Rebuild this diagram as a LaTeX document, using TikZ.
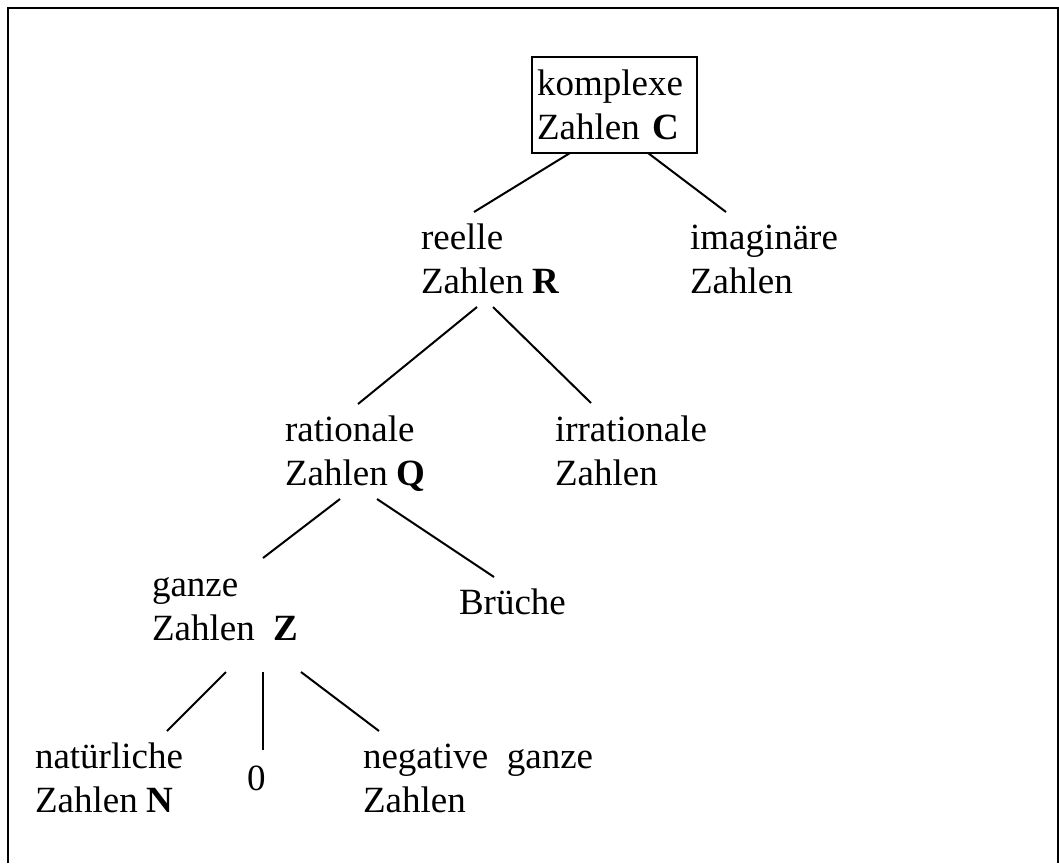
\documentclass[tikz,border=0pt]{standalone}
\usepackage{fontspec}
\setmainfont{Liberation Serif}
\usetikzlibrary{positioning}

\tikzset{
  zahl/.style={anchor=base west, inner sep=0pt, outer sep=0pt, align=left},
  ast/.style={line width=2pt}
}

\begin{document}
\begin{tikzpicture}[x=1pt, y=1pt, font=\fontsize{37}{44}\selectfont]
    \useasboundingbox (0,0) rectangle (1059,-863);
    \draw[ast] (7.5,-863) -- (7.5,-7.5) -- (1057.5,-7.5) -- (1057.5,-863);

    \node[draw, line width=2pt, inner sep=0pt, outer sep=0pt, minimum width=165pt,
          minimum height=96pt, text width=155pt, align=left] (kompl) at (614.5,-105)
          {komplexe\\Zahlen \textbf{C}};
    % base = last line
    \node[zahl] (reell) at (421,-293) {reelle\\Zahlen \textbf{R}};
    \node[zahl] (imag)  at (690,-293) {imaginäre\\Zahlen};
    \node[zahl] (ratio) at (285,-485) {rationale\\Zahlen \textbf{Q}};
    \node[zahl] (irrat) at (555,-485) {irrationale\\Zahlen};
    \node[zahl] (ganz)  at (152,-640) {ganze\\Zahlen \ \textbf{Z}};
    \node[zahl] (bruch) at (459,-614) {Brüche};
    \node[zahl] (nat)   at (35,-812)  {natürliche\\Zahlen \textbf{N}};
    \node[zahl] (null)  at (247,-790) {0};
    \node[zahl] (neg)   at (363,-812) {negative \ ganze\\Zahlen};

    \foreach \a/\ax/\ay/\b/\bx/\by in {kompl.south west/38/0/reell/53/81,
        kompl.south west/116/0/imag/36/81, reell.base west/56/-14/ratio/73/81,
        reell.base west/72/-14/irrat/36/82, ratio.base west/55/-14/ganz/111/82,
        ratio.base west/92/-14/bruch/35/37, ganz.base west/74/-32/nat/132/81,
        ganz.base west/111/-32/null/16/40, ganz.base west/149/-32/neg/16/81}
    {
        \draw[ast] ([xshift=\ax pt, yshift=\ay pt]\a) -- ([xshift=\bx pt, yshift=\by pt]\b.base west);
    }
\end{tikzpicture}
\end{document}
